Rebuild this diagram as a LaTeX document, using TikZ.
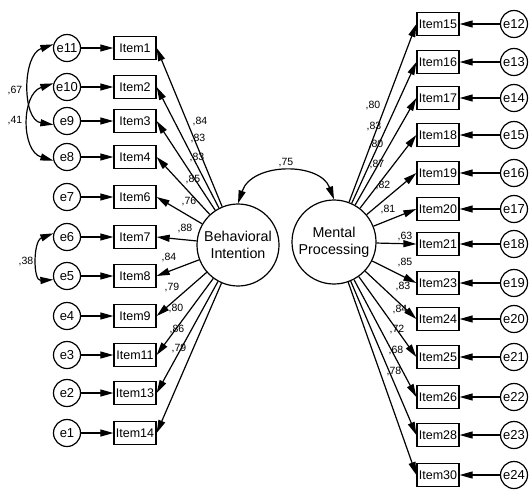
\documentclass[tikz,border=0pt]{standalone}
\usepackage{fontspec}
\setmainfont{Liberation Sans}
\usetikzlibrary{arrows.meta}
\begin{document}
\begin{tikzpicture}[x=1pt,y=-1pt,
  item/.style={draw,rectangle,minimum width=42pt,minimum height=23pt,inner sep=0pt,line width=1.3pt,font=\fontsize{12.5}{14}\selectfont},
  err/.style={draw,circle,minimum size=27pt,inner sep=0pt,line width=1.2pt,font=\fontsize{13}{15}\selectfont},
  lat/.style={draw,circle,inner sep=0pt,line width=1.2pt,align=center,font=\fontsize{14.3}{17}\selectfont},
  lbl/.style={inner sep=0pt,font=\fontsize{10.5}{12}\selectfont},
  arr/.style={line width=1.2pt,-{Triangle[length=13pt,width=7pt]}},
  darr/.style={line width=1.2pt,{Triangle[length=13pt,width=7pt]}-{Triangle[length=13pt,width=7pt]}}]
\useasboundingbox (0,0) rectangle (529,491);
% latent variables
\node[lat,minimum size=82pt] (BI) at (238,245) {Behavioral\\Intention};
\node[lat,minimum size=84pt] (MP) at (334,242) {Mental\\Processing};
% left items and errors
\foreach \n/\e/\y in {1/11/48,2/10/87,3/9/121,4/8/157,6/7/197,7/6/237,8/5/276,9/4/316,11/3/355,13/2/393,14/1/433}{
  \node[item] (I\n) at (135,\y) {Item\n};
  \node[err] (e\e) at (67,\y) {e\e};
  \draw[arr] (e\e) -- (I\n);
  \draw[arr] (BI) -- (I\n.east);
}
% right items and errors
\foreach \n/\e/\y in {15/12/24,16/13/62,17/14/98,18/15/135,19/16/173,20/17/209,21/18/244,23/19/283,24/20/319,25/21/357,26/22/397,28/23/435,30/24/475}{
  \node[item] (I\n) at (438,\y) {Item\n};
  \node[err] (e\e) at (514,\y) {e\e};
  \draw[arr] (e\e) -- (I\n);
  \draw[arr] (MP) -- (I\n.west);
}
% covariances
\draw[darr] (e11.165) .. controls (22,55) and (22,120) .. (e9.195);
\draw[darr] (e10.165) .. controls (21,94) and (21,151) .. (e8.195);
\draw[darr] (e6.165) .. controls (33,241) and (33,281) .. (e5.195);
\draw[darr] (BI.north) .. controls (252,162) and (320,162) .. (MP.north);
% labels
\node[lbl] (c67) at (15,90) {,67};
\node[lbl] (c41) at (15,121) {,41};
\node[lbl] (c38) at (26,261) {,38};
\node[lbl] (c75) at (286,163) {,75};
\foreach \t/\x/\y [count=\i] in {84/200/121,83/198/138,83/197/157,85/193/179,76/189/201,88/185/228,84/169/257,79/172/287,80/176/308,86/177/329,79/179/348}{
  \node[lbl] (L\i) at (\x,\y) {,\t};
}
\foreach \t/\x/\y [count=\i] in {80/373/106,83/374/126,80/376/144,87/377/164,82/383/185,81/388/209,63/405/236,85/405/262,83/403/286,84/400/309,72/397/329,68/396/350,78/394/371}{
  \node[lbl] (R\i) at (\x,\y) {,\t};
}
\end{tikzpicture}
\end{document}
